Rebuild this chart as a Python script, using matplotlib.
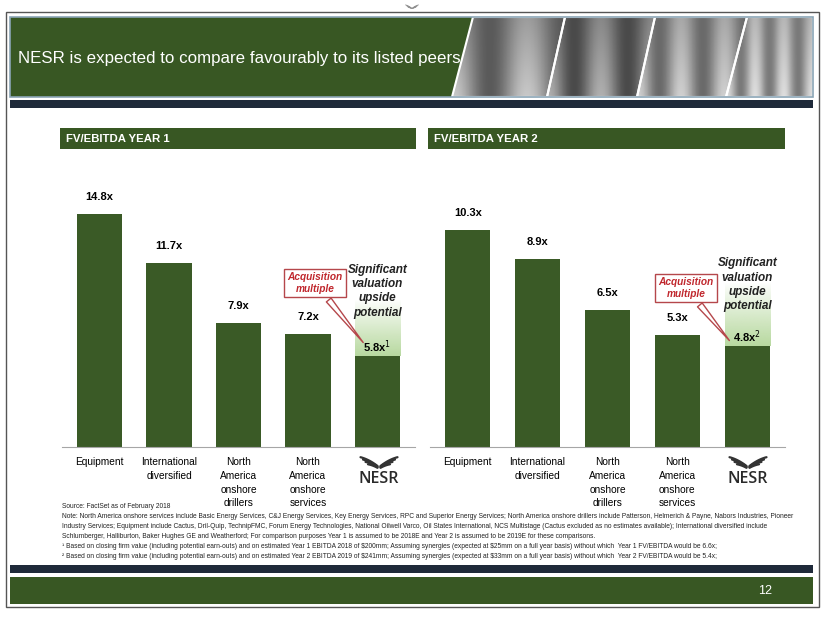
import numpy as np
import matplotlib
matplotlib.use('Agg')
import matplotlib.pyplot as plt
from matplotlib import font_manager
from matplotlib.patches import Rectangle, Polygon

# chart data
categories = ['Equipment', 'International\ndiversified', 'North\nAmerica\nonshore\ndrillers',
              'North\nAmerica\nonshore\nservices', 'NESR']
year1 = [14.8, 11.7, 7.9, 7.2, 5.8]
year2 = [10.3, 8.9, 6.5, 5.3, 4.8]
labels1 = ['14.8x', '11.7x', '7.9x', '7.2x', r'5.8x$^{1}$']
labels2 = ['10.3x', '8.9x', '6.5x', '5.3x', r'4.8x$^{2}$']

footnotes = [
    "Source: FactSet as of February 2018",
    "Note: North America onshore services include Basic Energy Services, C&J Energy Services, Key Energy Services, RPC and Superior Energy Services; North America onshore drillers include Patterson, Helmerich & Payne, Nabors Industries, Pioneer",
    "Industry Services; Equipment include Cactus, Dril-Quip, TechnipFMC, Forum Energy Technologies, National Oilwell Varco, Oil States International, NCS Multistage (Cactus excluded as no estimates available); International diversified include",
    "Schlumberger, Halliburton, Baker Hughes GE and Weatherford; For comparison purposes Year 1 is assumed to be 2018E and Year 2 is assumed to be 2019E for these comparisons.",
    "\u00b9 Based on closing firm value (including potential earn-outs) and on estimated Year 1 EBITDA 2018 of \\$200mm; Assuming synergies (expected at \\$25mm on a full year basis) without which  Year 1 FV/EBITDA would be 6.6x;",
    "\u00b2 Based on closing firm value (including potential earn-outs) and on estimated Year 2 EBITDA 2019 of \\$241mm; Assuming synergies (expected at \\$33mm on a full year basis) without which  Year 2 FV/EBITDA would be 5.4x;",
]

GREEN = '#385723'
BAR = '#3a5a26'
NAVY = '#1f2a3a'
RED = '#c0272d'

names = {f.name for f in font_manager.fontManager.ttflist}
NARROW = 'Liberation Sans Narrow' if 'Liberation Sans Narrow' in names else 'Liberation Sans'
plt.rcParams['font.family'] = ['Liberation Sans', 'DejaVu Sans']

W, H = 825, 619
fig = plt.figure(figsize=(8.25, 6.19), dpi=100)
fig.patch.set_facecolor('white')

# background axis in pixel coordinates for the slide decoration
bg = fig.add_axes([0, 0, 1, 1], zorder=0)
bg.set_xlim(0, W)
bg.set_ylim(H, 0)
bg.axis('off')

bg.add_patch(Rectangle((6, 12), 813, 595, fill=False, ec='#555555', lw=1))
# title bar with grey "photo" panels
bg.add_patch(Polygon([(10, 17), (473, 17), (452, 97), (10, 97)], fc=GREEN, ec='none'))
shades = [('#5a5a5a', '#c8c8c8'), ('#4a4a4a', '#b0b0b0'), ('#6a6a6a', '#d0d0d0'),
          ('#7a7a7a', '#dedede')]
edges = [(452, 473), (547, 565), (637, 655), (726, 747), (813, 813)]
for i, (dark, light) in enumerate(shades):
    (b0, t0), (b1, t1) = edges[i], edges[i + 1]
    poly = Polygon([(b0, 97), (t0, 17), (t1, 17), (b1, 97)], fc='none', ec='white', lw=1.5,
                   zorder=3)
    bg.add_patch(poly)
    c0 = np.array(matplotlib.colors.to_rgb(dark))
    c1 = np.array(matplotlib.colors.to_rgb(light))
    xx = np.linspace(0, 1, 80)
    ramp = 0.5 + 0.5 * np.cos(xx * np.pi * (3 + i))
    img = c0 + (c1 - c0) * ramp[None, :, None] * np.linspace(0.6, 1, 40)[:, None, None]
    im = bg.imshow(img, extent=[b0, t1, 97, 17], aspect='auto', zorder=2)
    im.set_clip_path(poly)
bg.add_patch(Rectangle((10, 17), 803, 80, fc='none', ec='#8aa4b5', lw=1.2, zorder=4))
title = bg.text(18, 59, 'NESR is expected to compare favourably to its listed peers',
                color='white', fontsize=16, family=NARROW, va='center', ha='left', zorder=5)
bg.add_patch(Rectangle((10, 100), 803, 8, fc=NAVY, ec='none'))

# chart headers
for x0, x1, t in [(60, 416, 'FV/EBITDA YEAR 1'), (428, 785, 'FV/EBITDA YEAR 2')]:
    bg.add_patch(Rectangle((x0, 128), x1 - x0, 21, fc=GREEN, ec='none'))
    bg.text(x0 + 6, 139, t, color='white', fontsize=8.2, fontweight='bold', family=NARROW,
            va='center', ha='left')

# bottom bars
bg.add_patch(Rectangle((10, 565), 803, 8, fc=NAVY, ec='none'))
bg.add_patch(Rectangle((10, 577), 803, 27, fc=GREEN, ec='none'))
bg.text(765, 591, '12', color='white', fontsize=9, va='center', ha='center', family=NARROW)

# footnotes
foot_y = [507, 516, 526, 536, 546, 556]
foot_txt = []
for y, t in zip(foot_y, footnotes):
    foot_txt.append(bg.text(62, y, t, fontsize=4.5, family=NARROW, va='center', ha='left',
                            color='#222222'))


def wings(cx, cy, s, color='#333333'):
    # simple wing mark: a few feather strokes per side
    for side in (-1, 1):
        for i in range(4):
            t = np.linspace(0, 1, 20)
            x = cx + side * s * (1.5 + t * (17 - i * 2.5))
            y = cy - s * (t * (11 - i * 2.2) * (1.2 - 0.4 * t)) + s * i * 0.6
            bg.plot(x, y, color=color, lw=1.6 * s, solid_capstyle='round')


for cx in (379, 748):
    wings(cx, 466, 1.0)
    bg.text(cx, 479, 'NESR', fontsize=11.5, color='#2a2a2a', ha='center', va='center',
            family='Open Sans', fontweight='semibold')
wings(412, 8, 0.35, color='#8a8a8a')


def chart(rect, values, labels, ppu, callout, sig_y, grad_h):
    ax = fig.add_axes(rect, zorder=1)
    ax.set_facecolor('none')
    x = np.arange(len(values))
    ax.bar(x, values, width=0.65, color=BAR, zorder=2)
    top = rect[3] * H / ppu
    # light green gradient above the NESR bar
    v = values[-1]
    grad = np.zeros((60, 1, 4))
    grad[:, 0, :3] = matplotlib.colors.to_rgb('#b8d9a0')
    grad[:, 0, 3] = np.linspace(1, 0, 60) ** 0.9
    ax.imshow(grad, extent=[x[-1] - 0.325, x[-1] + 0.325, v, v + grad_h], origin='lower',
              aspect='auto', zorder=1)
    for xi, val, lab in zip(x, values, labels):
        off = 17 if xi < len(values) - 1 else 9
        ax.annotate(lab, (xi, val), xytext=(0, off * 0.72), textcoords='offset points',
                    ha='center', va='center', fontsize=8, fontweight='bold', zorder=3)
    ax.text(x[-1], sig_y, 'Significant\nvaluation\nupside\npotential', ha='center', va='center',
            fontsize=8.5, fontweight='bold', fontstyle='italic', color='#222222', linespacing=1.25,
            zorder=3)
    (bx, by), (tx, ty) = callout
    ax.annotate('Acquisition\nmultiple', xy=(tx, ty), xytext=(bx, by), ha='center', va='center',
                fontsize=7.3, fontweight='bold', fontstyle='italic', color=RED, zorder=4,
                bbox=dict(boxstyle='square,pad=0.35', fc='white', ec='#b5474b', lw=1),
                arrowprops=dict(arrowstyle='wedge,tail_width=0.6,shrink_factor=0.5',
                                fc='white', ec='#b5474b', lw=1))
    ax.set_xlim(-0.54, 4.54)
    ax.set_ylim(0, top)
    ax.set_xticks(x)
    ax.set_xticklabels(categories[:-1] + [''], fontsize=7.3, linespacing=1.45)
    ax.tick_params(axis='x', length=0, pad=7.5)
    ax.set_yticks([])
    for sp in ['left', 'right', 'top']:
        ax.spines[sp].set_visible(False)
    ax.spines['bottom'].set_color('#a6a6a6')
    return ax


base = (H - 447) / H
ax1 = chart([62 / W, base, 353 / W, 287 / H], year1, labels1, 15.74,
            ((3.1, 10.42), (3.82, 6.5)), 9.9, 3.6)
ax2 = chart([430 / W, base, 355 / W, 287 / H], year2, labels2, 21.07,
            ((3.12, 7.55), (3.77, 4.95)), 7.7, 3.0)

# fit text widths to the slide
fig.canvas.draw()
r = fig.canvas.get_renderer()


def fit(t, target):
    w = t.get_window_extent(r).width
    t.set_fontsize(t.get_fontsize() * target / w)


fit(title, 440)
fs = foot_txt[1].get_fontsize() * 733 / foot_txt[1].get_window_extent(r).width
for t in foot_txt:
    t.set_fontsize(fs)

fig.savefig('out.png', dpi=100)
